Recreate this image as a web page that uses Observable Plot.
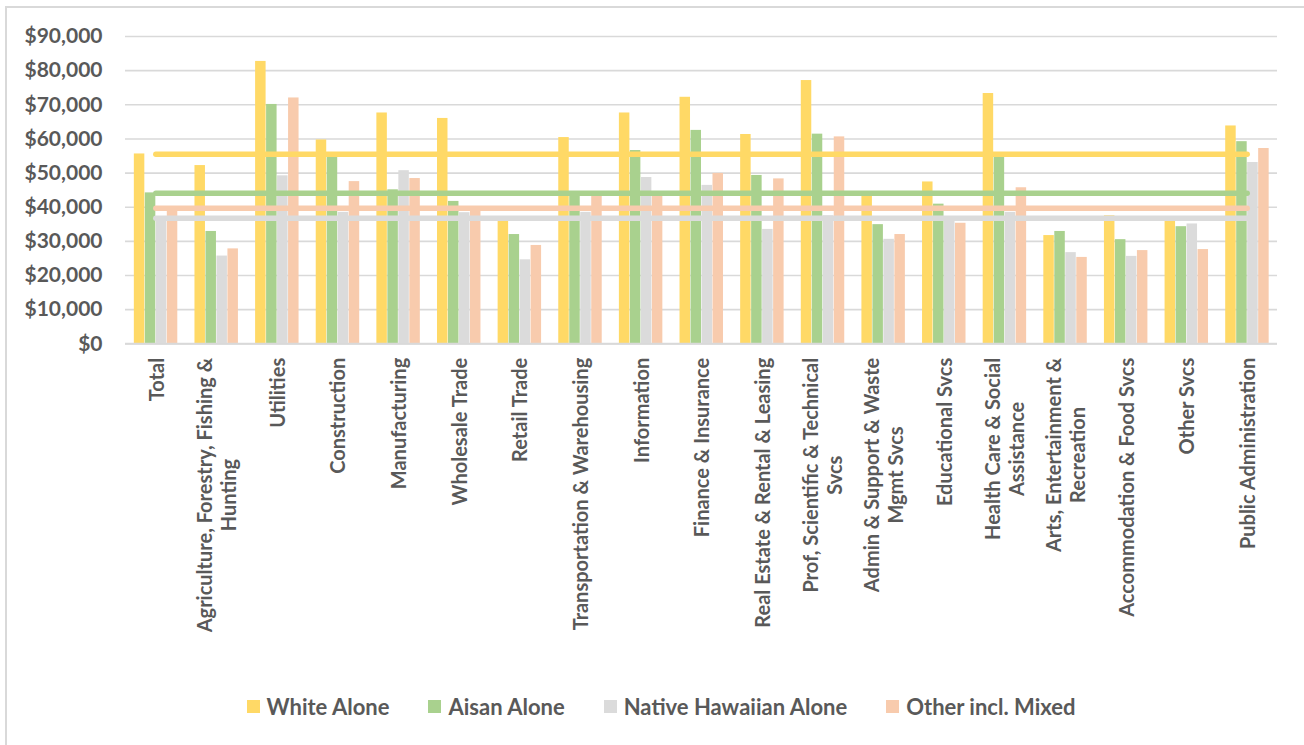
<!DOCTYPE html>
<html>
<head>
<meta charset="utf-8">
<script src="https://cdn.jsdelivr.net/npm/d3@7"></script>
<script src="https://cdn.jsdelivr.net/npm/@observablehq/plot@0.6"></script>
<style>
  html, body { margin: 0; padding: 0; background: #fff; }
  #wrap { position: relative; width: 1304px; height: 745px; overflow: hidden; font-family: Lato, "Open Sans", sans-serif; }
  #frame { position: absolute; left: 5px; top: 6px; width: 1400px; height: 800px; border-left: 2px solid #d9d9d9; border-top: 2px solid #d9d9d9; }
  #chart { position: absolute; left: 0; top: 0; }
  #legend { position: absolute; left: 9px; top: 693px; width: 1304px; display: flex; justify-content: center; gap: 39px;
            font: bold 22px Lato, sans-serif; color: #595959; }
  #legend .item { display: flex; align-items: center; gap: 7px; }
  #legend .sw { width: 13px; height: 13px; display: inline-block; }
</style>
</head>
<body>
<div id="wrap">
  <div id="frame"></div>
  <div id="chart"></div>
  <div id="legend"></div>
</div>
<script>
const categories = ["Total","Agriculture, Forestry, Fishing & Hunting","Utilities","Construction","Manufacturing","Wholesale Trade","Retail Trade","Transportation & Warehousing","Information","Finance & Insurance","Real Estate & Rental & Leasing","Prof, Scientific & Technical Svcs","Admin & Support & Waste Mgmt Svcs","Educational Svcs","Health Care & Social Assistance","Arts, Entertainment & Recreation","Accommodation & Food Svcs","Other Svcs","Public Administration"];
const tickLabels = ["Total","Agriculture, Forestry, Fishing &\nHunting","Utilities","Construction","Manufacturing","Wholesale Trade","Retail Trade","Transportation & Warehousing","Information","Finance & Insurance","Real Estate & Rental & Leasing","Prof, Scientific & Technical\nSvcs","Admin & Support & Waste\nMgmt Svcs","Educational Svcs","Health Care & Social\nAssistance","Arts, Entertainment &\nRecreation","Accommodation & Food Svcs","Other Svcs","Public Administration"];
const seriesNames = ["White Alone","Aisan Alone","Native Hawaiian Alone","Other incl. Mixed"];
const seriesColors = ["#ffd966","#a9d18e","#dbdbdb","#f8cbad"];
const whiteAlone    = [55600,52200,82700,59700,67600,66000,37000,60400,67600,72200,61300,77100,44000,47400,73300,31700,37500,36000,63800];
const asianAlone    = [44200,32900,70100,54600,45100,41700,32000,43500,56600,62500,49300,61400,34900,40900,54800,32900,30500,34300,59200];
const hawaiianAlone = [37200,25700,49200,38500,50700,38400,24600,38500,48700,46400,33500,37500,30600,36500,38500,26700,25600,35100,53100];
const otherMixed    = [39000,27800,72000,47500,48400,39000,28800,43500,43500,49900,48300,60600,32000,35300,45700,25300,27300,27600,57200];
const totalLines    = [55500,44100,36800,39700];
const yTicks = [0,10000,20000,30000,40000,50000,60000,70000,80000,90000];

const seriesValues = [whiteAlone, asianAlone, hawaiianAlone, otherMixed];
const W = 1304, ML = 125, MR = 27, MT = 36, H = 660, MB = H - 343.3;
const padIn = 0.275;
const step = (W - ML - MR) / categories.length;
const barW = step * (1 - padIn) / 4;

const barMarks = seriesValues.map((vals, i) =>
  Plot.barY(categories.map((c, j) => ({category: c, value: vals[j]})), {
    x: "category", y: "value", fill: seriesColors[i],
    insetLeft: i * barW + 0.5, insetRight: (3 - i) * barW
  })
);
const lineMarks = totalLines.map((v, i) =>
  Plot.lineY([{category: categories[0], value: v}, {category: categories[categories.length - 1], value: v}], {
    x: "category", y: "value", stroke: seriesColors[i], strokeWidth: 5.5, strokeLinecap: "round"
  })
);

const chart = Plot.plot({
  width: W, height: H,
  marginLeft: ML, marginRight: MR, marginTop: MT, marginBottom: MB,
  style: {fontFamily: "Lato, sans-serif", fontWeight: "bold", background: "transparent"},
  x: {domain: categories, paddingInner: padIn, paddingOuter: padIn / 2, round: false, label: null},
  y: {domain: [0, 90000], label: null},
  marks: [
    Plot.gridY(yTicks, {stroke: "#d9d9d9", strokeOpacity: 1, strokeWidth: 1.6}),
    ...barMarks,
    Plot.ruleY([0], {stroke: "#d9d9d9", strokeWidth: 2}),
    ...lineMarks,
    Plot.axisY(yTicks, {tickSize: 0, tickPadding: 23, fontSize: 21, fill: "#595959",
      tickFormat: d => "$" + d3.format(",")(d)}),
    Plot.axisX({tickSize: 0, tickPadding: 14, tickRotate: -90, fontSize: 20, lineHeight: 1.2, fill: "#595959",
      tickFormat: d => tickLabels[categories.indexOf(d)]})
  ]
});
document.getElementById("chart").appendChild(chart);

// Center wrapped lines of rotated category labels relative to each other (block stays end-aligned at the axis)
chart.querySelectorAll('g[aria-label="x-axis tick label"] text').forEach(t => {
  const spans = t.querySelectorAll("tspan");
  if (spans.length > 1) {
    let m = 0;
    spans.forEach(s => { m = Math.max(m, s.getComputedTextLength()); });
    t.setAttribute("text-anchor", "middle");
    spans.forEach(s => s.setAttribute("x", -m / 2));
  }
});

const legend = document.getElementById("legend");
seriesNames.forEach((name, i) => {
  const item = document.createElement("div");
  item.className = "item";
  const sw = document.createElement("span");
  sw.className = "sw";
  sw.style.background = seriesColors[i];
  const lab = document.createElement("span");
  lab.textContent = name;
  item.appendChild(sw); item.appendChild(lab);
  legend.appendChild(item);
});
</script>
</body>
</html>
